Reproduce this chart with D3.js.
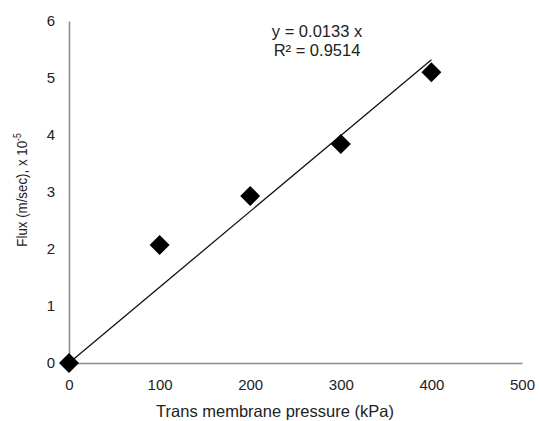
<!DOCTYPE html>
<html>
<head>
<meta charset="utf-8">
<script src="https://cdn.jsdelivr.net/npm/d3@7"></script>
<style>
  body { margin: 0; background: #fff; }
  text { font-family: "Liberation Sans", Arial, sans-serif; fill: #222; }
</style>
</head>
<body>
<svg id="chart" width="539" height="421"></svg>
<script>
// data
const pressure = [0, 100, 200, 300, 400];       // kPa
const flux = [0, 2.07, 2.93, 3.84, 5.1];        // m/sec x 10^-5
const slope = 0.0133;
const rSquared = "0.9514";
const xTicks = [0, 100, 200, 300, 400, 500];
const yTicks = [0, 1, 2, 3, 4, 5, 6];

const svg = d3.select("#chart");
const margin = { left: 69, right: 17, top: 21, bottom: 58 };
const W = 539, H = 421;

const x = d3.scaleLinear().domain([0, 500]).range([margin.left, W - margin.right]);
const y = d3.scaleLinear().domain([0, 6]).range([H - margin.bottom, margin.top]);

// axes (no tick marks, gray lines)
const xAxis = svg.append("g")
    .attr("transform", `translate(0,${y(0)})`)
    .call(d3.axisBottom(x).tickValues(xTicks).tickFormat(d3.format("d")).tickSize(0).tickPadding(16));
const yAxis = svg.append("g")
    .attr("transform", `translate(${x(0)},0)`)
    .call(d3.axisLeft(y).tickValues(yTicks).tickFormat(d3.format("d")).tickSize(0).tickPadding(14));

[xAxis, yAxis].forEach(a => {
    a.select(".domain").attr("stroke", "#8c8c8c").attr("stroke-width", 1.6);
    a.selectAll("text")
        .style("font-family", "'Liberation Sans', Arial, sans-serif")
        .style("font-size", "15px")
        .attr("fill", "#222");
});

// trendline through origin
const fit = pressure.map(p => [p, slope * p]);
svg.append("path")
    .datum([fit[0], fit[fit.length - 1]])
    .attr("fill", "none")
    .attr("stroke", "#111")
    .attr("stroke-width", 1.3)
    .attr("d", d3.line().x(d => x(d[0])).y(d => y(d[1])));

// diamond markers
const diamond = d3.symbol().type(d3.symbolSquare).size(200);
svg.selectAll("path.pt")
    .data(pressure.map((p, i) => [p, flux[i]]))
    .join("path")
    .attr("class", "pt")
    .attr("d", diamond)
    .attr("fill", "#000")
    .attr("transform", d => `translate(${x(d[0])},${y(d[1])}) rotate(45)`);

// equation label
const eq = svg.append("text")
    .attr("text-anchor", "middle")
    .style("font-size", "16.5px");
eq.append("tspan").attr("x", 317).attr("y", 37).text(`y = ${slope} x`);
eq.append("tspan").attr("x", 317).attr("y", 56).text(`R² = ${rSquared}`);

// axis titles
svg.append("text")
    .attr("x", 275).attr("y", 417)
    .attr("text-anchor", "middle")
    .style("font-size", "16.5px")
    .text("Trans membrane pressure (kPa)");

const yt = svg.append("text")
    .attr("transform", `translate(27,190) rotate(-90) scale(0.86,1)`)
    .attr("text-anchor", "middle")
    .style("font-size", "15.5px");
yt.append("tspan").text("Flux (m/sec), x 10");
yt.append("tspan").attr("dy", -6).style("font-size", "10px").text("-5");
</script>
</body>
</html>
